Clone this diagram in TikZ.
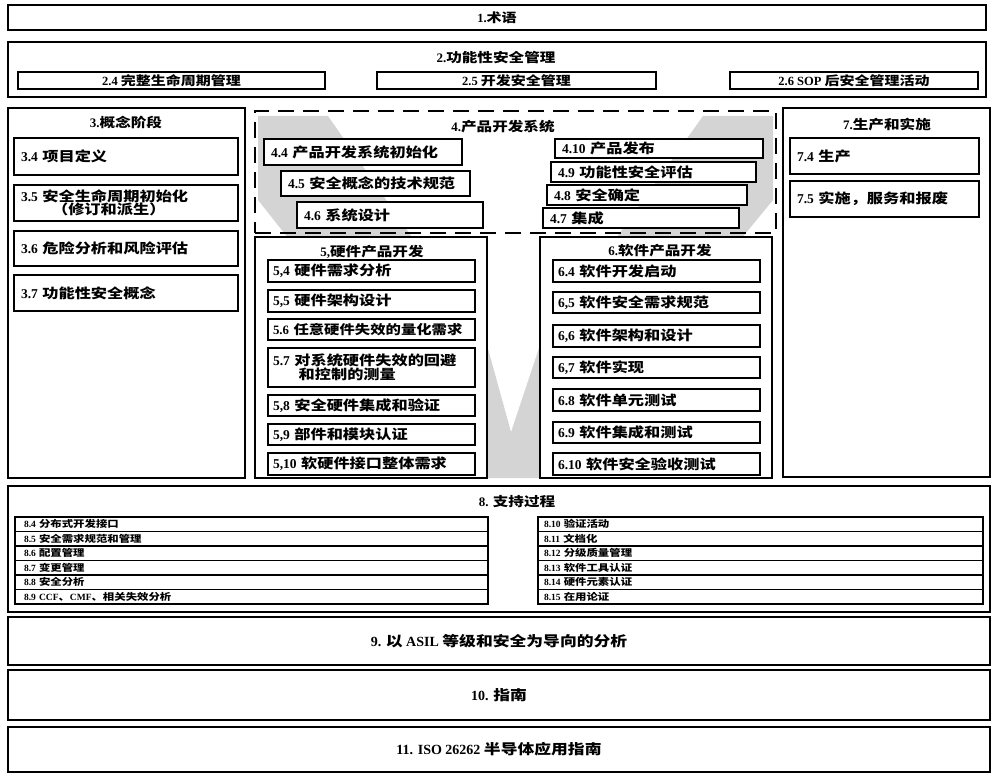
\documentclass[tikz,border=0pt]{standalone}
\usepackage{fontspec}
\setmainfont{Liberation Serif}
\newfontfamily\cjk[FakeStretch=1.2]{Noto Sans CJK SC}
\newcommand\zh[1]{{\cjk #1}}
\newcommand\fsz[1]{\fontsize{#1}{#1}\selectfont}
\def\bxpad{7}
\newcommand\bx[7]{%
  \pgfmathsetmacro\bxcx{(#2+#4)/2}%
  \pgfmathsetmacro\bxcy{(#3+#5)/2}%
  \pgfmathsetmacro\bxw{#4-#2}%
  \pgfmathsetmacro\bxh{#5-#3}%
  \pgfmathsetmacro\bxtw{#4-#2-2*\bxpad}%
  \node[#6, minimum width=\bxw pt, minimum height=\bxh pt] (#1) at (\bxcx,\bxcy) {#7};}
\begin{document}
\begin{tikzpicture}[x=1pt,y=-1pt,
  outer/.style={draw, line width=2pt, inner sep=0pt},
  whiteouter/.style={outer, fill=white},
  ttl/.style={inner sep=0pt, font=\bfseries\fsz{13}},
  cent/.style={outer, font=\bfseries\fsz{14}},
  subc/.style={draw, fill=white, line width=1.3pt, inner sep=0pt, font=\bfseries\fsz{12.5}},
  sub/.style={draw, fill=white, line width=1.3pt, inner sep=0pt, font=\bfseries\fsz{13.5}, text width=\bxtw pt, align=left},
  row/.style={draw, fill=white, line width=1.1pt, inner sep=0pt, font=\bfseries\fsz{9.5}, text width=\bxtw pt, align=left},
  vband/.style={fill=black!17, draw=none}
]
\useasboundingbox (0,0) rectangle (993,775);
% background V of the V-model
\fill[vband] (258,116) -- (258,200) -- (478,478) -- (545,478) -- (773,200) -- (773,116)
  -- (703,116) -- (540,345) -- (511,432) -- (487,345) -- (328,116) -- cycle;

% 1
\bx{b1}{8}{5}{986}{30}{outer,font=\bfseries\fsz{12.5}}{1.\zh{术语}}
% 2
\bx{b2}{8}{42}{986}{97}{outer}{}
\node[ttl] (t2) at (496,58) {2.\zh{功能性安全管理}};
\bx{b24}{18}{72}{325}{89}{subc}{2.4 \zh{完整生命周期管理}}
\bx{b25}{377}{72}{656}{89}{subc}{2.5 \zh{开发安全管理}}
\bx{b26}{730}{72}{978}{89}{subc}{2.6 SOP \zh{后安全管理活动}}

% 3
\bx{b3}{8}{108}{245}{478}{outer}{}
\node[ttl] (t3) at (126,122) {3.\zh{概念阶段}};
\bx{b34}{14}{138}{238}{175}{sub}{3.4 \zh{项目定义}}
\bx{b35}{14}{185}{238}{221}{sub}{3.5 \zh{安全生命周期初始化}\\\hspace*{2.3em}\zh{（修订和派生）}}
\bx{b36}{14}{231}{238}{266}{sub}{3.6 \zh{危险分析和风险评估}}
\bx{b37}{14}{275}{238}{311}{sub}{3.7 \zh{功能性安全概念}}

% 4
\bx{b4}{255}{111}{776}{233}{outer, line width=2.5pt, dash pattern=on 16pt off 9pt}{}
\node[ttl] (t4) at (503,127) {4.\zh{产品开发系统}};
\bx{b44}{264}{139}{462}{165}{sub}{4.4 \zh{产品开发系统初始化}}
\bx{b45}{281}{171}{470}{196}{sub}{4.5 \zh{安全概念的技术规范}}
\bx{b46}{297}{202}{483}{228}{sub}{4.6 \zh{系统设计}}
\bx{b410}{555}{139}{763}{158}{sub}{4.10 \zh{产品发布}}
\bx{b49}{551}{162}{756}{182}{sub}{4.9 \zh{功能性安全评估}}
\bx{b48}{547}{185}{747}{205}{sub}{4.8 \zh{安全确定}}
\bx{b47}{543}{208}{739}{228}{sub}{4.7 \zh{集成}}

% 5
\bx{b5}{255}{237}{487}{478}{whiteouter}{}
\node[ttl] (t5) at (372,252) {5,\zh{硬件产品开发}};
\def\bxpad{5}
\bx{b54}{268}{260}{475}{282}{sub}{5,4 \zh{硬件需求分析}}
\bx{b55}{268}{290}{475}{312}{sub}{5,5 \zh{硬件架构设计}}
\bx{b56}{268}{319}{475}{340}{sub}{\fsz{12.8}\mbox{5.6 \zh{任意硬件失效的量化需求}}}
\bx{b57}{268}{348}{475}{387}{sub}{5.7 \zh{对系统硬件失效的回避}\\\hspace*{1.9em}\zh{和控制的测量}}
\bx{b58}{268}{395}{475}{416}{sub}{5,8 \zh{安全硬件集成和验证}}
\bx{b59}{268}{424}{475}{445}{sub}{5,9 \zh{部件和模块认证}}
\bx{b510}{268}{453}{475}{475}{sub}{5,10 \zh{软硬件接口整体需求}}

% 6
\bx{b6}{540}{237}{772}{478}{whiteouter}{}
\node[ttl] (t6) at (660,251) {6.\zh{软件产品开发}};
\bx{b64}{553}{260}{760}{282}{sub}{6.4 \zh{软件开发启动}}
\bx{b65}{553}{292}{760}{313}{sub}{6,5 \zh{软件安全需求规范}}
\bx{b66}{553}{325}{760}{347}{sub}{6,6 \zh{软件架构和设计}}
\bx{b67}{553}{357}{760}{378}{sub}{6,7 \zh{软件实现}}
\bx{b68}{553}{389}{760}{411}{sub}{6.8 \zh{软件单元测试}}
\bx{b69}{553}{422}{760}{443}{sub}{6.9 \zh{软件集成和测试}}
\bx{b610}{553}{453}{760}{475}{sub}{6.10 \zh{软件安全验收测试}}
\def\bxpad{7}

% 7
\bx{b7}{783}{108}{990}{477}{outer}{}
\node[ttl] (t7) at (887,125) {7.\zh{生产和实施}};
\bx{b74}{790}{138}{979}{174}{sub}{7.4 \zh{生产}}
\bx{b75}{790}{181}{979}{217}{sub}{7.5 \zh{实施，服务和报废}}

% 8
\bx{b8}{8}{486}{990}{612}{outer}{}
\node[ttl] (t8) at (517,502) {8. \zh{支持过程}};
\def\bxpad{9}
\bx{b84}{15}{517}{488}{531.5}{row}{8.4 \zh{分布式开发接口}}
\bx{b85}{15}{531.5}{488}{546}{row}{8.5 \zh{安全需求规范和管理}}
\bx{b86}{15}{546}{488}{560.5}{row}{8.6 \zh{配置管理}}
\bx{b87}{15}{560.5}{488}{575}{row}{8.7 \zh{变更管理}}
\bx{b88}{15}{575}{488}{589.5}{row}{8.8 \zh{安全分析}}
\bx{b89}{15}{589.5}{488}{604}{row}{8.9 CCF\zh{、}CMF\zh{、相关失效分析}}
\def\bxpad{6}
\bx{b810}{538}{517}{983}{531.5}{row}{8.10 \zh{验证活动}}
\bx{b811}{538}{531.5}{983}{546}{row}{8.11 \zh{文档化}}
\bx{b812}{538}{546}{983}{560.5}{row}{8.12 \zh{分级质量管理}}
\bx{b813}{538}{560.5}{983}{575}{row}{8.13 \zh{软件工具认证}}
\bx{b814}{538}{575}{983}{589.5}{row}{8.14 \zh{硬件元素认证}}
\bx{b815}{538}{589.5}{983}{604}{row}{8.15 \zh{在用论证}}

% 9 - 11
\bx{b9}{8}{617}{990}{665}{cent}{9. \zh{以} ASIL \zh{等级和安全为导向的分析}}
\bx{b10}{8}{670}{990}{720}{cent}{10. \zh{指南}}
\bx{b11}{8}{727}{990}{772}{cent}{11. ISO 26262 \zh{半导体应用指南}}
\end{tikzpicture}
\end{document}
